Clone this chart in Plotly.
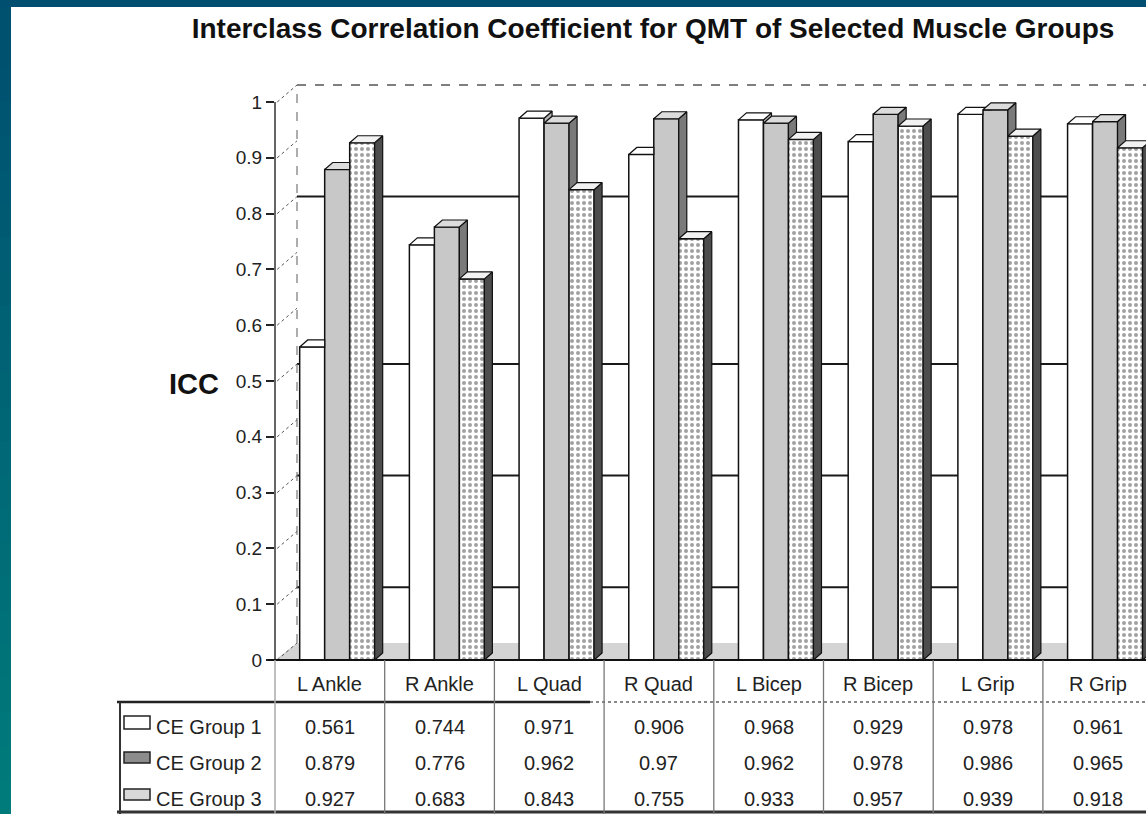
import plotly.graph_objects as go

# ---------------- data ----------------
categories = ["L Ankle", "R Ankle", "L Quad", "R Quad", "L Bicep", "R Bicep", "L Grip", "R Grip"]
group_names = ["CE Group 1", "CE Group 2", "CE Group 3"]
group1 = [0.561, 0.744, 0.971, 0.906, 0.968, 0.929, 0.978, 0.961]
group2 = [0.879, 0.776, 0.962, 0.97, 0.962, 0.978, 0.986, 0.965]
group3 = [0.927, 0.683, 0.843, 0.755, 0.933, 0.957, 0.939, 0.918]
y_tick_values = [0, 0.1, 0.2, 0.3, 0.4, 0.5, 0.6, 0.7, 0.8, 0.9, 1]
y_tick_labels = ["0", "0.1", "0.2", "0.3", "0.4", "0.5", "0.6", "0.7", "0.8", "0.9", "1"]
wall_grid_levels = [0.1, 0.3, 0.5, 0.8]
title_text = "Interclass Correlation Coefficient for QMT of Selected Muscle Groups"
y_title = "ICC"

groups = [group1, group2, group3]

# ---------------- geometry (layout only) ----------------
W, H = 1146, 814
ML, MR, MT, MB = 275, 0, 80, 154
PLOT_W = W - ML - MR
PLOT_H = H - MT - MB
PX_PER_X = 109.7
PX_PER_Y = 558.0
X_MIN = -0.5
X_MAX = X_MIN + PLOT_W / PX_PER_X
Y_MAX = PLOT_H / PX_PER_Y

BAR_W = 25 / PX_PER_X
BAR_OFF0 = -0.275
DX = 8 / PX_PER_X
DY = 7 / PX_PER_Y
WALL_DX = 22 / PX_PER_X
WALL_DY = 17 / PX_PER_Y


def xp(p):
    return (p - ML) / PLOT_W


def yp(p):
    return (H - MB - p) / PLOT_H


FONT = "Liberation Sans, Arial, sans-serif"

front_colors = ["#ffffff", "#c8c8c8", "#ffffff"]
top_colors = ["#ffffff", "#dcdcdc", "#f2f2f2"]
side_colors = ["#b5b5b5", "#7a7a7a", "#4d4d4d"]

fig = go.Figure()

# front faces (real bars)
for k, (name, vals) in enumerate(zip(group_names, groups)):
    marker = dict(color=front_colors[k], line=dict(color="#111111", width=1.5))
    if k == 2:
        marker["pattern"] = dict(shape=".", fgcolor="#444444", bgcolor="#ffffff",
                                 size=6, solidity=0.35)
    fig.add_trace(go.Bar(
        x=list(range(len(categories))), y=vals, name=name,
        width=BAR_W, offset=BAR_OFF0 + k * BAR_W,
        marker=marker, showlegend=False, hoverinfo="skip"))

# 3-D top and side faces, derived from the same values
for k, vals in enumerate(groups):
    side_x, side_y, top_x, top_y = [], [], [], []
    for i, v in enumerate(vals):
        x0 = i + BAR_OFF0 + k * BAR_W
        x1 = x0 + BAR_W
        c = groups[k + 1][i] if k < 2 else 0.0
        # side face (visible part above the next bar)
        if c <= v:
            pts = [(x1, max(c, 0)), (x1 + DX, max(c, DY)), (x1 + DX, v + DY), (x1, v)]
        elif c < v + DY:
            xc = x1 + (c - v) * DX / DY
            pts = [(xc, c), (x1 + DX, c), (x1 + DX, v + DY)]
        else:
            pts = []
        if pts:
            pts.append(pts[0])
            side_x += [p[0] for p in pts] + [None]
            side_y += [p[1] for p in pts] + [None]
        # top face
        if k == 2 or c <= v:
            pts = [(x0, v), (x1, v), (x1 + DX, v + DY), (x0 + DX, v + DY)]
        elif c >= v + DY:
            pts = [(x0, v), (x1, v), (x1, v + DY), (x0 + DX, v + DY)]
        else:
            xc = x1 + (c - v) * DX / DY
            pts = [(x0, v), (x1, v), (x1, c), (xc, c), (x1 + DX, v + DY), (x0 + DX, v + DY)]
        pts.append(pts[0])
        top_x += [p[0] for p in pts] + [None]
        top_y += [p[1] for p in pts] + [None]
    fig.add_trace(go.Scatter(x=side_x, y=side_y, mode="lines", fill="toself",
                             fillcolor=side_colors[k], line=dict(color="#111111", width=1.2),
                             showlegend=False, hoverinfo="skip"))
    fig.add_trace(go.Scatter(x=top_x, y=top_y, mode="lines", fill="toself",
                             fillcolor=top_colors[k], line=dict(color="#111111", width=1.2),
                             showlegend=False, hoverinfo="skip"))

shapes = []

# floor
shapes.append(dict(type="path", xref="x", yref="y", layer="below",
                   path=f"M {X_MIN},0 L {X_MIN + WALL_DX},{WALL_DY} L {X_MAX},{WALL_DY} L {X_MAX},0 Z",
                   fillcolor="#d4d4d4", line=dict(width=0)))
# back wall gridlines
for lv in wall_grid_levels:
    shapes.append(dict(type="line", xref="x", yref="y", layer="below",
                       x0=X_MIN + WALL_DX, x1=X_MAX, y0=lv + WALL_DY, y1=lv + WALL_DY,
                       line=dict(color="#1a1a1a", width=2)))
# back wall outline
shapes.append(dict(type="line", xref="x", yref="y", layer="below",
                   x0=X_MIN + WALL_DX, x1=X_MIN + WALL_DX, y0=WALL_DY, y1=1 + WALL_DY,
                   line=dict(color="#777777", width=1.2, dash="dash")))
shapes.append(dict(type="line", xref="x", yref="y", layer="below",
                   x0=X_MIN + WALL_DX, x1=X_MAX, y0=1 + WALL_DY, y1=1 + WALL_DY,
                   line=dict(color="#555555", width=1.5, dash="dash")))
# tick connectors to the wall
for tv in y_tick_values:
    shapes.append(dict(type="line", xref="x", yref="y", layer="below",
                       x0=X_MIN + 0.02, x1=X_MIN + WALL_DX, y0=tv, y1=tv + WALL_DY,
                       line=dict(color="#555555", width=1, dash="dot")))
# y axis line and floor front line
shapes.append(dict(type="line", xref="paper", yref="y", x0=0, x1=0, y0=0, y1=1,
                   line=dict(color="#333333", width=1.5)))
shapes.append(dict(type="line", xref="paper", yref="paper", x0=xp(268), x1=1, y0=0, y1=0,
                   line=dict(color="#111111", width=2)))

# ---- table ----
shapes.append(dict(type="line", xref="paper", yref="paper", x0=xp(117), x1=xp(590),
                   y0=yp(702), y1=yp(702), line=dict(color="#222222", width=2.5)))
shapes.append(dict(type="line", xref="paper", yref="paper", x0=xp(590), x1=1,
                   y0=yp(702), y1=yp(702), line=dict(color="#888888", width=2, dash="dot")))
shapes.append(dict(type="line", xref="paper", yref="paper", x0=xp(117), x1=1,
                   y0=yp(812), y1=yp(812), line=dict(color="#333333", width=3)))
shapes.append(dict(type="line", xref="paper", yref="paper", x0=xp(120), x1=xp(120),
                   y0=yp(702), y1=yp(814), line=dict(color="#333333", width=2)))
shapes.append(dict(type="line", xref="paper", yref="paper", x0=0, x1=0,
                   y0=0, y1=yp(814), line=dict(color="#aaaaaa", width=1.5)))
for i in range(1, len(categories)):
    shapes.append(dict(type="line", xref="x", yref="paper", x0=i - 0.5, x1=i - 0.5,
                       y0=0, y1=yp(814), line=dict(color="#777777", width=1.3)))

# legend keys in the table
key_rows = [(716, 729), (752, 763), (789, 800)]
key_fill = ["#ffffff", "#8c8c8c", "#d8d8d8"]
for k, (t, b) in enumerate(key_rows):
    shapes.append(dict(type="rect", xref="paper", yref="paper", x0=xp(124), x1=xp(150),
                       y0=yp(b), y1=yp(t), fillcolor=key_fill[k],
                       line=dict(color="#222222", width=1.5)))

# frame (dark blue / teal gradient)
n = 24
for j in range(n):
    f = j / (n - 1)
    g = int(0x50 + (0x7b - 0x50) * f)
    bl = int(0x70 + (0x7b - 0x70) * f)
    col = f"#00{g:02x}{bl:02x}"
    shapes.append(dict(type="rect", xref="paper", yref="paper", x0=xp(0), x1=xp(11),
                       y0=yp(H * (j + 1) / n + 1), y1=yp(H * j / n), fillcolor=col,
                       line=dict(width=0), layer="above"))
shapes.append(dict(type="rect", xref="paper", yref="paper", x0=xp(0), x1=xp(W),
                   y0=yp(7), y1=yp(0), fillcolor="#004f70", line=dict(width=0)))

annotations = []
row_y = [727, 763, 799]
TXT = dict(family=FONT, size=20, color="#222222")
for i, cat in enumerate(categories):
    annotations.append(dict(x=i, xref="x", y=yp(684), yref="paper", text=cat,
                            showarrow=False, xanchor="center", yanchor="middle", font=TXT))
    for k, vals in enumerate(groups):
        annotations.append(dict(x=i, xref="x", y=yp(row_y[k]), yref="paper", text=str(vals[i]),
                                showarrow=False, xanchor="center", yanchor="middle", font=TXT))
for k, name in enumerate(group_names):
    annotations.append(dict(x=xp(154), xref="paper", y=yp(row_y[k]), yref="paper", text=name,
                            showarrow=False, xanchor="left", yanchor="middle", font=TXT))
annotations.append(dict(x=xp(194), xref="paper", y=yp(384), yref="paper", text=f"<b>{y_title}</b>",
                        showarrow=False, xanchor="center", yanchor="middle",
                        font=dict(family=FONT, size=29, color="#111111")))

fig.update_layout(
    width=W, height=H,
    margin=dict(l=ML, r=MR, t=MT, b=MB, pad=0),
    paper_bgcolor="#ffffff", plot_bgcolor="rgba(0,0,0,0)",
    barmode="overlay",
    title=dict(text=f"<b>{title_text}</b>", x=653 / W, xanchor="center",
               y=1 - 28 / H, yanchor="middle", yref="container",
               font=dict(family=FONT, size=28, color="#111111")),
    xaxis=dict(range=[X_MIN, X_MAX], showticklabels=False, showgrid=False,
               zeroline=False, showline=False, ticks=""),
    yaxis=dict(range=[0, Y_MAX], tickvals=y_tick_values, ticktext=y_tick_labels,
               ticks="outside", ticklen=8, tickwidth=1.5, tickcolor="#222222",
               showgrid=False, zeroline=False, showline=False,
               tickfont=dict(family=FONT, size=19, color="#222222")),
    shapes=shapes, annotations=annotations,
    showlegend=False,
)

fig.write_html("out.html")
